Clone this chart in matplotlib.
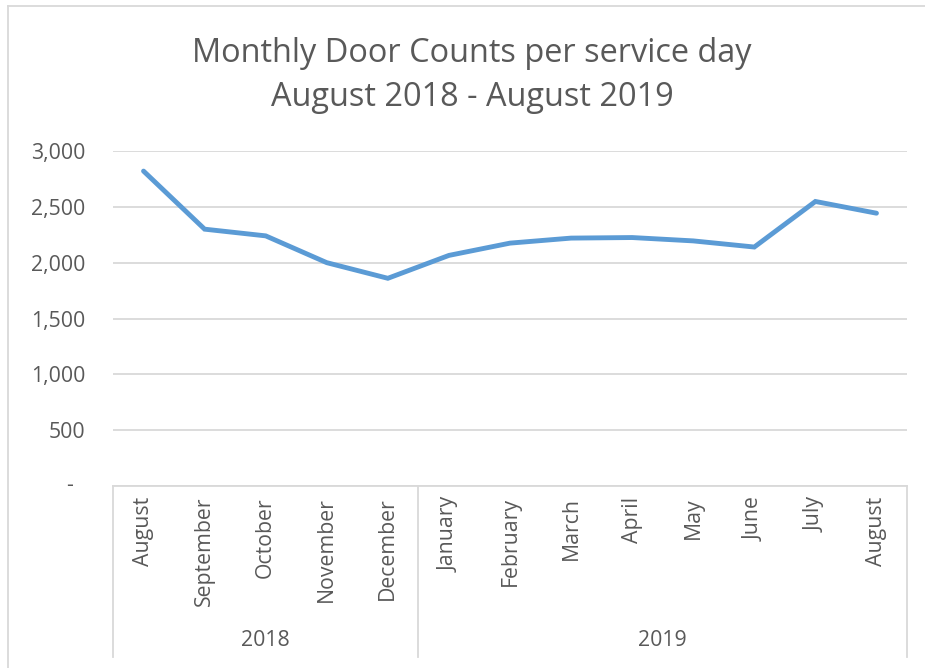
import matplotlib
matplotlib.use("Agg")
import matplotlib.pyplot as plt
from matplotlib.lines import Line2D

plt.rcParams['font.family'] = ['Open Sans', 'DejaVu Sans']

months = ["August", "September", "October", "November", "December",
          "January", "February", "March", "April", "May", "June", "July", "August"]
years = ["2018", "2019"]
year_counts = [5, 8]
door_counts = [2820, 2300, 2240, 2000, 1860, 2065, 2175, 2220, 2225, 2195, 2140, 2548, 2443]
yticks = [0, 500, 1000, 1500, 2000, 2500, 3000]
ytick_labels = ["-", "500", "1,000", "1,500", "2,000", "2,500", "3,000"]
title = "Monthly Door Counts per service day\nAugust 2018 - August 2019"

W, H = 925, 668
fig = plt.figure(figsize=(W / 100, H / 100), dpi=100)

TXT = "#595959"
GRID = "#d9d9d9"
FS = 15.3

# outer chart border (top & left visible)
fig.add_artist(Line2D([8 / W, 8 / W], [0, 1 - 6 / H], transform=fig.transFigure, color=GRID, lw=1.3))
fig.add_artist(Line2D([8 / W, 1], [1 - 6 / H, 1 - 6 / H], transform=fig.transFigure, color=GRID, lw=1.3))

left, right, top, bottom = 113, 907, 151, 486
ax = fig.add_axes([left / W, 1 - bottom / H, (right - left) / W, (bottom - top) / H])

n = len(months)
x = list(range(n))
ax.plot(x, door_counts, color="#5b9bd5", lw=3.5, solid_capstyle="round", solid_joinstyle="miter", zorder=3)

ax.set_xlim(-0.5, n - 0.5)
ax.set_ylim(0, 3000)
ax.set_yticks(yticks)
# accounting-style zero ("-") is drawn separately, indented like Excel
ax.set_yticklabels(["" if t == "-" else t for t in ytick_labels])
ax.tick_params(axis="y", length=0, labelsize=FS, labelcolor=TXT, pad=20)
for v, t in zip(yticks, ytick_labels):
    if t == "-":
        ax.annotate(t, xy=(0, v), xycoords=("axes fraction", "data"),
                    xytext=(-29, 0), textcoords="offset points",
                    ha="right", va="center", fontsize=FS, color=TXT)
ax.set_xticks([])
ax.grid(axis="y", color=GRID, lw=1.3, zorder=0)
for s in ax.spines.values():
    s.set_visible(False)

# category axis (two-level)
trans = ax.get_xaxis_transform()
axis_h = bottom - top
def fy(py):
    # pixel y below axes bottom -> axes fraction
    return -(py - bottom) / axis_h

ax.plot([-0.5, n - 0.5], [0, 0], transform=trans, color=GRID, lw=1.3, clip_on=False, zorder=2)
bounds = [-0.5]
acc = -0.5
for c in year_counts:
    acc += c
    bounds.append(acc)
for b in bounds:
    ax.plot([b, b], [0, fy(657)], transform=trans, color=GRID, lw=1.3, clip_on=False)

for i, m in enumerate(months):
    ax.text(i, fy(497), m, transform=trans, rotation=90, ha="center", va="top",
            fontsize=FS, color=TXT)

for j, yr in enumerate(years):
    cx = (bounds[j] + bounds[j + 1]) / 2
    ax.text(cx, fy(641), yr, transform=trans, ha="center", va="center",
            fontsize=FS, color=TXT)

fig.text(472 / W, 1 - 53 / H, title.split("\n")[0], ha="center", va="center", fontsize=23.4,
         color=TXT)
fig.text(472 / W, 1 - 98 / H, title.split("\n")[1], ha="center", va="center", fontsize=23.4,
         color=TXT)

fig.savefig("out.png", dpi=100)
